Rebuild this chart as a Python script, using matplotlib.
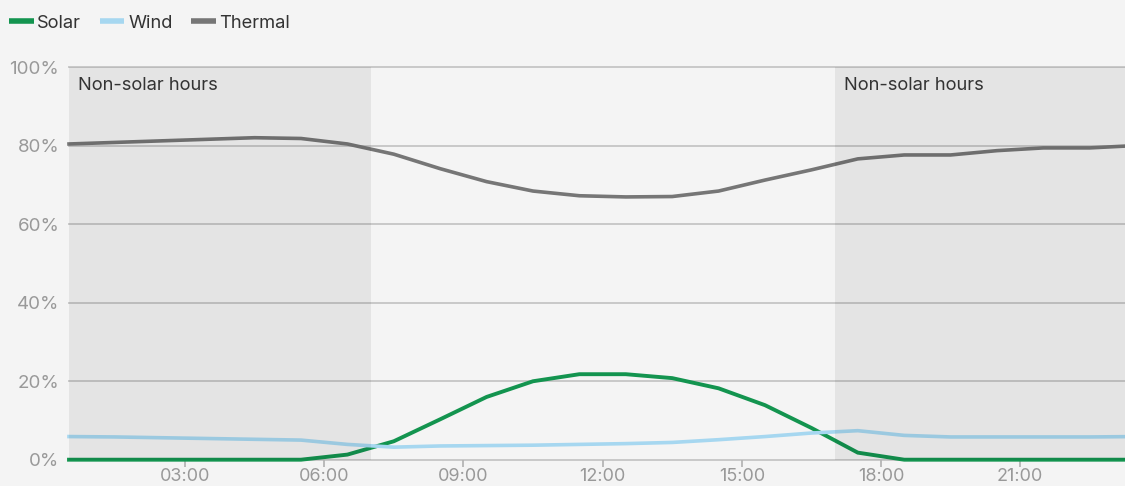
import matplotlib
matplotlib.use("Agg")
import matplotlib.pyplot as plt
from matplotlib.lines import Line2D

hours = [0.5, 1.5, 2.5, 3.5, 4.5, 5.5, 6.5, 7.5, 8.5, 9.5, 10.5, 11.5,
         12.5, 13.5, 14.5, 15.5, 16.5, 17.5, 18.5, 19.5, 20.5, 21.5, 22.5, 23.5]
solar = [0, 0, 0, 0, 0, 0, 1.3, 4.7, 10.3, 16.0, 20.0, 21.8,
         21.8, 20.8, 18.2, 13.9, 8.1, 1.8, 0, 0, 0, 0, 0, 0]
wind = [5.9, 5.8, 5.6, 5.4, 5.2, 5.0, 3.9, 3.2, 3.5, 3.6, 3.7, 3.9,
        4.1, 4.4, 5.1, 5.9, 6.8, 7.4, 6.2, 5.8, 5.8, 5.8, 5.8, 5.9]
thermal = [80.5, 80.9, 81.3, 81.7, 82.1, 81.9, 80.5, 77.9, 74.2, 70.9, 68.5, 67.3,
           67.0, 67.1, 68.5, 71.3, 73.9, 76.7, 77.7, 77.7, 78.8, 79.5, 79.5, 80.1]
series_names = ["Solar", "Wind", "Thermal"]
series_colors = ["#13944f", "#a6d7f0", "#767676"]
tick_hours = [3, 6, 9, 12, 15, 18, 21]
tick_labels = ["03:00", "06:00", "09:00", "12:00", "15:00", "18:00", "21:00"]
y_ticks = [0, 20, 40, 60, 80, 100]
y_labels = ["0%", "20%", "40%", "60%", "80%", "100%"]
shade_spans = [(0.5, 7.0), (17.0, 23.5)]
shade_label = "Non-solar hours"

plt.rcParams['font.family'] = ['Inter', 'DejaVu Sans']
BG = "#f4f4f4"
W, H = 1125, 486
fig = plt.figure(figsize=(W / 100, H / 100), dpi=100, facecolor=BG)

left_px, right_px = 69, 1125
top_px, bottom_px = 67.5, 459.7
ax = fig.add_axes([left_px / W, 1 - bottom_px / H, (right_px - left_px) / W,
                   (bottom_px - top_px) / H])
ax.set_facecolor(BG)
px_per_h = 46.4
ax.set_xlim(0.5, 0.5 + (right_px - left_px) / px_per_h)
ax.set_ylim(0, 100)

for s in ax.spines.values():
    s.set_visible(False)

# gridlines
for yv in y_ticks:
    ax.axhline(yv, color="#c8c8c8", lw=1.4, zorder=1, clip_on=False)

data = [solar, wind, thermal]
widths = [2.8, 2.6, 2.6]
handles = []
for vals, name, col, lw in zip(data, series_names, series_colors, widths):
    ax.plot(hours, vals, color=col, lw=lw, solid_joinstyle="miter",
            zorder=3, clip_on=False)
    handles.append(Line2D([0], [0], color=col, lw=4, solid_capstyle="butt", label=name))

for a, b in shade_spans:
    ax.axvspan(a, b, color="black", alpha=0.062, lw=0, zorder=4)
    ax.text(a + 0.2, 95.5, shade_label, fontsize=13.2, color="#333333",
            va="center", ha="left", zorder=5)

ax.set_xticks(tick_hours)
ax.set_xticklabels(tick_labels)
ax.tick_params(axis="x", length=5, width=1.3, color="#b5b5b5", labelcolor="#999999",
               labelsize=13, pad=1)
ax.set_yticks(y_ticks)
ax.set_yticklabels(y_labels)
ax.tick_params(axis="y", length=0, labelsize=13.5, labelcolor="#999999", pad=7)

fig.legend(handles=handles, loc="center left", bbox_to_anchor=(9 / W, 1 - 23 / H),
           ncol=3, frameon=False, fontsize=13.2, handlelength=1.35, handletextpad=0.2,
           columnspacing=1.0, labelcolor="#333333", borderaxespad=0, borderpad=0)

fig.savefig("out.png", dpi=100, facecolor=BG)
